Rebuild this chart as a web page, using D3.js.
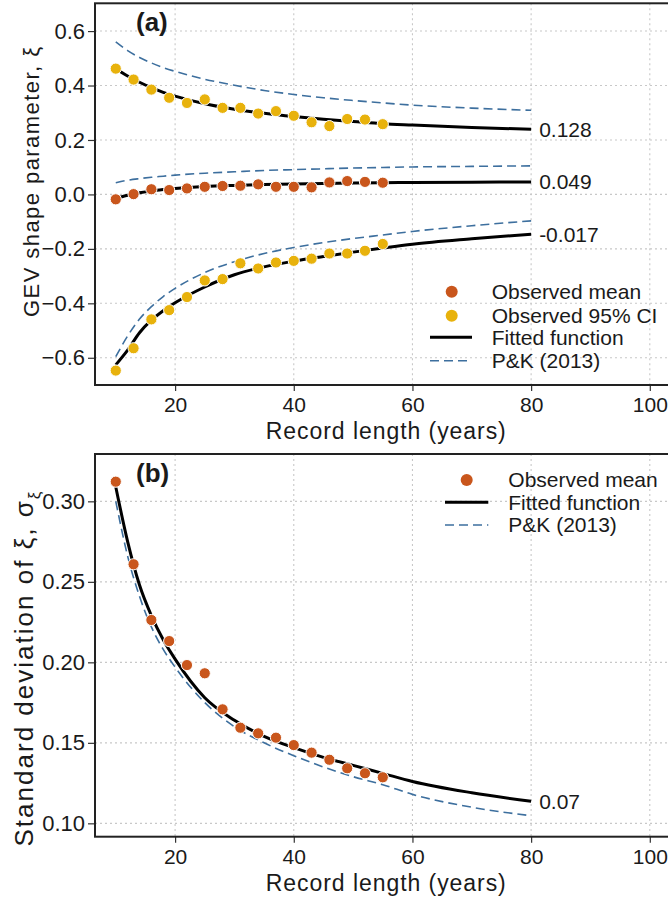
<!DOCTYPE html>
<html>
<head>
<meta charset="utf-8">
<script src="https://cdn.jsdelivr.net/npm/d3@7"></script>
<style>
  html, body { margin: 0; padding: 0; background: #fff; }
  #chart { width: 668px; height: 898px; overflow: hidden; }
  text { font-family: 'Liberation Sans', Arial, sans-serif; fill: #1a1a1a; }
</style>
</head>
<body>
<div id="chart"></div>
<script>
'use strict'

// observed record lengths
const xObs = [10, 13, 16, 19, 22, 25, 28, 31, 34, 37, 40, 43, 46, 49, 52, 55]
const meanA = [-0.018, 0.001, 0.019, 0.016, 0.022, 0.028, 0.031, 0.032, 0.037, 0.028, 0.028, 0.026, 0.044, 0.049, 0.046, 0.043]
const ciUpper = [0.462, 0.422, 0.385, 0.355, 0.336, 0.349, 0.318, 0.318, 0.297, 0.306, 0.289, 0.265, 0.251, 0.277, 0.275, 0.258]
const ciLower = [-0.647, -0.565, -0.459, -0.425, -0.377, -0.316, -0.311, -0.253, -0.272, -0.250, -0.244, -0.236, -0.217, -0.217, -0.207, -0.182]
const sdObs = [0.3122, 0.2609, 0.2263, 0.2132, 0.1983, 0.1932, 0.1708, 0.1594, 0.1559, 0.1532, 0.1486, 0.1439, 0.1395, 0.1342, 0.1311, 0.1286]

const xFit = [10, 12, 14, 16, 18, 20, 25, 30, 35, 40, 45, 50, 55, 60, 70, 80]
const fitUpperA = [0.462, 0.435, 0.412, 0.392, 0.375, 0.361, 0.333, 0.313, 0.298, 0.286, 0.276, 0.268, 0.260, 0.255, 0.246, 0.239]
const fitMeanA = [-0.015, -0.003, 0.006, 0.013, 0.018, 0.022, 0.029, 0.033, 0.036, 0.038, 0.040, 0.042, 0.043, 0.044, 0.045, 0.046]
const fitLowerA = [-0.626, -0.572, -0.508, -0.462, -0.427, -0.398, -0.340, -0.295, -0.266, -0.245, -0.228, -0.212, -0.197, -0.183, -0.163, -0.146]
const pkUpperA = [0.560, 0.528, 0.503, 0.483, 0.466, 0.452, 0.423, 0.401, 0.382, 0.367, 0.355, 0.345, 0.336, 0.328, 0.317, 0.309]
const pkMeanA = [0.043, 0.052, 0.058, 0.063, 0.067, 0.071, 0.078, 0.083, 0.088, 0.091, 0.094, 0.097, 0.099, 0.101, 0.103, 0.105]
const pkLowerA = [-0.596, -0.520, -0.458, -0.412, -0.375, -0.345, -0.287, -0.247, -0.217, -0.195, -0.177, -0.162, -0.149, -0.136, -0.115, -0.097]
const fitSd = [0.309, 0.275, 0.248, 0.229, 0.214, 0.202, 0.178, 0.164, 0.154, 0.147, 0.141, 0.136, 0.131, 0.126, 0.119, 0.1137]
const pkSd = [0.300, 0.266, 0.241, 0.222, 0.208, 0.197, 0.175, 0.160, 0.150, 0.142, 0.135, 0.129, 0.124, 0.118, 0.110, 0.1047]

const endLabelsA = ['0.128', '0.049', '-0.017']
const endLabelsB = ['0.07']

const xTicks = [20, 40, 60, 80, 100]
const yTicksA = [-0.6, -0.4, -0.2, 0.0, 0.2, 0.4, 0.6]
const yTicksB = [0.10, 0.15, 0.20, 0.25, 0.30]

const legendA = ['Observed mean', 'Observed 95% CI', 'Fitted function', 'P&K (2013)']
const legendB = ['Observed mean', 'Fitted function', 'P&K (2013)']

let gev_chart = ((selector = '#chart') => {

    ////////////////////////////////////
    //////////// svg setup /////////////
    ////////////////////////////////////

    const svgWidth = 668, svgHeight = 898
    const svg = d3.select(selector).append('svg')
        .attr('width', svgWidth)
        .attr('height', svgHeight)

    const colMean = '#c9561c', colCI = '#e8b20c', colPK = '#3d6f9e'
    const gridCol = '#c8c8c8'

    const left = 95, right = 676.5

    const x = d3.scaleLinear().domain([6.5, 104.5]).range([left, right])

    const panels = [
        {top: 3.3, bottom: 385, domain: [-0.70, 0.702], ticks: yTicksA, fmt: d3.format('.1f'), tag: '(a)'},
        {top: 454, bottom: 836.7, domain: [0.0917, 0.3294], ticks: yTicksB, fmt: d3.format('.2f'), tag: '(b)'}
    ]

    const line = (ys, yScale) => d3.line()
        .x((d, i) => x(xFit[i]))
        .y(d => yScale(d))
        .curve(d3.curveMonotoneX)(ys)

    ////////////////////////////////////
    //////////// panels ////////////////
    ////////////////////////////////////

    panels.forEach((p, k) => {
        p.y = d3.scaleLinear().domain(p.domain).range([p.bottom, p.top])
        var g = svg.append('g').attr('class', 'panel')

        // grid
        g.selectAll('.vgrid').data(xTicks).join('line')
            .attr('x1', d => x(d)).attr('x2', d => x(d))
            .attr('y1', p.top).attr('y2', p.bottom)
            .attr('stroke', gridCol).attr('stroke-width', 1.1).attr('stroke-dasharray', '2,3')
        g.selectAll('.hgrid').data(p.ticks).join('line')
            .attr('x1', left).attr('x2', right)
            .attr('y1', d => p.y(d)).attr('y2', d => p.y(d))
            .attr('stroke', gridCol).attr('stroke-width', 1.1).attr('stroke-dasharray', '2,3')

        // axes
        var xAxis = g.append('g')
            .attr('transform', `translate(0,${p.bottom})`)
            .call(d3.axisBottom(x).tickValues(xTicks).tickSize(6).tickPadding(3))
        var yAxis = g.append('g')
            .attr('transform', `translate(${left},0)`)
            .call(d3.axisLeft(p.y).tickValues(p.ticks).tickFormat(p.fmt).tickSize(7).tickPadding(3))
        ;[xAxis, yAxis].forEach(a => {
            a.select('.domain').remove()
            a.selectAll('line').attr('stroke', '#333').attr('stroke-width', 1.2)
            a.selectAll('text').style('font-size', '22px').attr('fill', '#222')
        })
        // x tick labels a bit smaller so the title fits under them
        xAxis.selectAll('text').style('font-size', '21px').attr('dy', '0.86em')

        g.append('text')
            .attr('x', (left + right) / 2)
            .attr('y', p.bottom + 54)
            .attr('text-anchor', 'middle')
            .attr('textLength', 240)
            .style('font-size', '23px')
            .text('Record length (years)')

        g.append('text')
            .attr('x', 136).attr('y', p.top + 28)
            .style('font-size', '26px').style('font-weight', 'bold')
            .text(p.tag)
    })

    ////////////////////////////////////
    //////////// panel (a) /////////////
    ////////////////////////////////////

    var pa = panels[0], ga = svg.append('g')
    ;[pkUpperA, pkMeanA, pkLowerA].forEach(s => {
        ga.append('path').attr('d', line(s, pa.y))
            .attr('fill', 'none').attr('stroke', colPK).attr('stroke-width', 1.6).attr('stroke-dasharray', '9,5')
    })
    ;[fitUpperA, fitMeanA, fitLowerA].forEach((s, i) => {
        ga.append('path').attr('d', line(s, pa.y))
            .attr('fill', 'none').attr('stroke', '#000').attr('stroke-width', 3)
        ga.append('text')
            .attr('x', x(80) + 8).attr('y', pa.y(s[s.length - 1]))
            .attr('dy', '0.35em')
            .style('font-size', '21px')
            .text(endLabelsA[i])
    })
    ;[[ciUpper, colCI], [ciLower, colCI], [meanA, colMean]].forEach(([s, c]) => {
        ga.selectAll(null).data(s).join('circle')
            .attr('cx', (d, i) => x(xObs[i])).attr('cy', d => pa.y(d))
            .attr('r', 5.6).attr('fill', c).attr('stroke', '#fff').attr('stroke-width', 1)
    })

    // y title (a)
    ga.append('text')
        .attr('transform', 'translate(39,182) rotate(-90)')
        .attr('text-anchor', 'middle')
        .attr('textLength', 270)
        .style('font-size', '22px')
        .text('GEV shape parameter, ξ')

    // legend (a)
    var la = ga.append('g')
    var ly = [291.7, 315.7, 337.3, 360.7]
    la.append('circle').attr('cx', 451.7).attr('cy', ly[0]).attr('r', 6).attr('fill', colMean)
    la.append('circle').attr('cx', 451.7).attr('cy', ly[1]).attr('r', 6).attr('fill', colCI)
    la.append('line').attr('x1', 430).attr('x2', 472).attr('y1', ly[2]).attr('y2', ly[2])
        .attr('stroke', '#000').attr('stroke-width', 3)
    la.append('line').attr('x1', 430).attr('x2', 472).attr('y1', ly[3]).attr('y2', ly[3])
        .attr('stroke', colPK).attr('stroke-width', 1.6).attr('stroke-dasharray', '9,5')
    la.selectAll('.lt').data(legendA).join('text')
        .attr('x', 491.7).attr('y', (d, i) => ly[i]).attr('dy', '0.35em')
        .style('font-size', '21px')
        .text(d => d)

    ////////////////////////////////////
    //////////// panel (b) /////////////
    ////////////////////////////////////

    var pb = panels[1], gb = svg.append('g')
    gb.append('path').attr('d', line(pkSd, pb.y))
        .attr('fill', 'none').attr('stroke', colPK).attr('stroke-width', 1.6).attr('stroke-dasharray', '9,5')
    gb.append('path').attr('d', line(fitSd, pb.y))
        .attr('fill', 'none').attr('stroke', '#000').attr('stroke-width', 3)
    gb.append('text')
        .attr('x', x(80) + 8).attr('y', pb.y(fitSd[fitSd.length - 1]))
        .attr('dy', '0.35em')
        .style('font-size', '21px')
        .text(endLabelsB[0])
    gb.selectAll(null).data(sdObs).join('circle')
        .attr('cx', (d, i) => x(xObs[i])).attr('cy', d => pb.y(d))
        .attr('r', 5.6).attr('fill', colMean).attr('stroke', '#fff').attr('stroke-width', 1)

    // y title (b)
    var tb = gb.append('text')
        .attr('transform', 'translate(33,669) rotate(-90)')
        .attr('text-anchor', 'middle')
        .attr('textLength', 355)
        .style('font-size', '26px')
    tb.append('tspan').text('Standard deviation of ξ, σ')
    tb.append('tspan').attr('dy', 7).style('font-size', '17px').text('ξ')

    // legend (b)
    var lb = gb.append('g')
    var lyb = [480, 502.3, 525]
    lb.append('circle').attr('cx', 466.7).attr('cy', lyb[0]).attr('r', 6).attr('fill', colMean)
    lb.append('line').attr('x1', 445).attr('x2', 488.3).attr('y1', lyb[1]).attr('y2', lyb[1])
        .attr('stroke', '#000').attr('stroke-width', 3)
    lb.append('line').attr('x1', 445).attr('x2', 488.3).attr('y1', lyb[2]).attr('y2', lyb[2])
        .attr('stroke', colPK).attr('stroke-width', 1.6).attr('stroke-dasharray', '9,5')
    lb.selectAll('.lt').data(legendB).join('text')
        .attr('x', 508.3).attr('y', (d, i) => lyb[i]).attr('dy', '0.35em')
        .style('font-size', '21px')
        .text(d => d)

    // panel borders on top
    panels.forEach(p => {
        svg.append('rect')
            .attr('x', left).attr('y', p.top)
            .attr('width', right - left).attr('height', p.bottom - p.top)
            .attr('fill', 'none').attr('stroke', '#222').attr('stroke-width', 2)
    })

})()
</script>
</body>
</html>
